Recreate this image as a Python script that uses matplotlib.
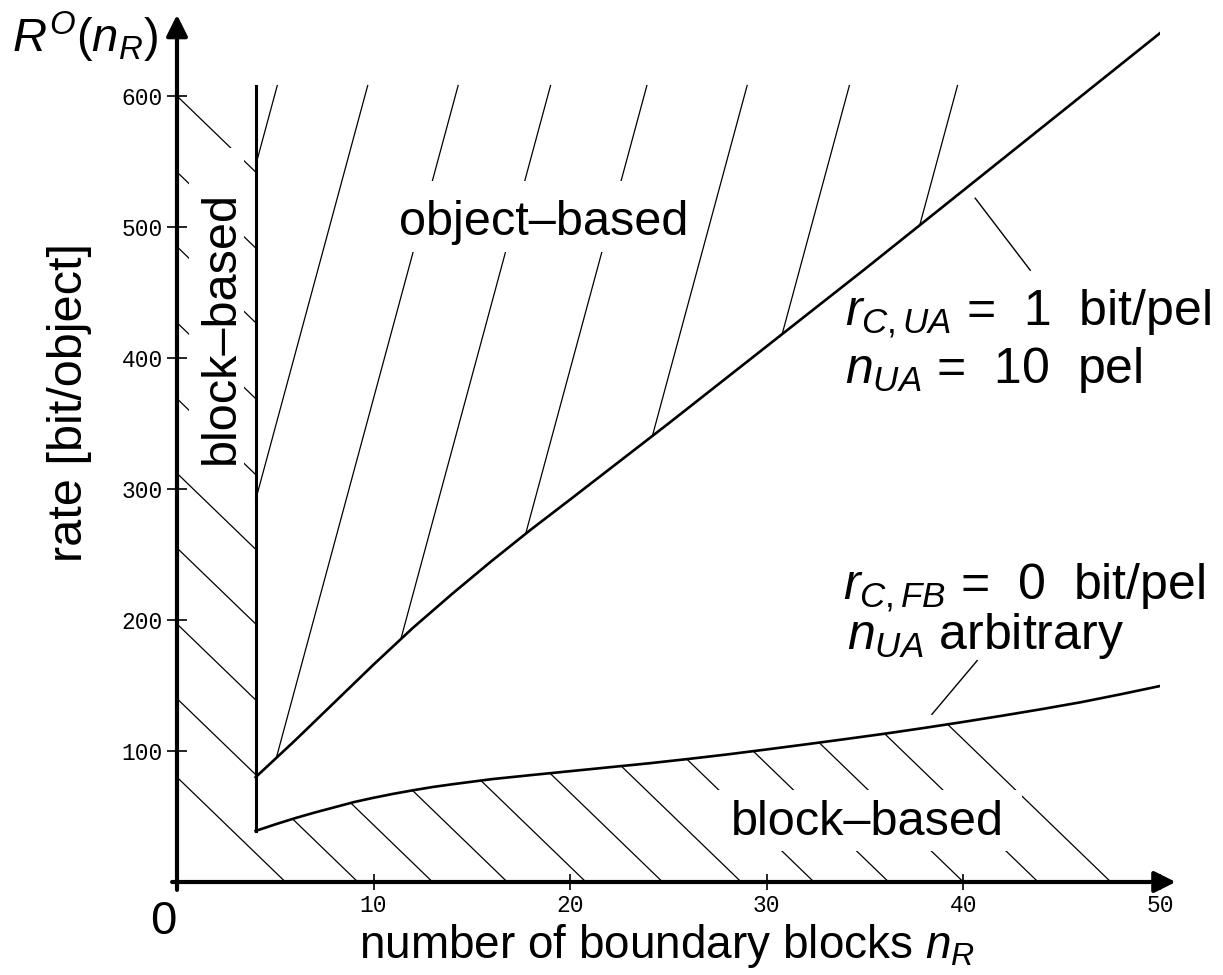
import numpy as np
import matplotlib.pyplot as plt
from matplotlib.patches import Rectangle

plt.rcParams['font.family'] = ['Liberation Sans', 'DejaVu Sans']
plt.rcParams['mathtext.fontset'] = 'custom'
plt.rcParams['mathtext.rm'] = 'Liberation Sans'
plt.rcParams['mathtext.it'] = 'Liberation Sans:italic'

# object-based rate, r_C,UA = 1 bit/pel, n_UA = 10 pel
upper_x = [4, 6, 8, 10, 12, 14, 16, 18, 20, 25, 30, 35, 40, 45, 50]
upper_y = [80, 108, 137, 166, 194, 220, 245, 269, 292, 350, 409, 468, 528, 588, 648]
# block-based rate, r_C,FB = 0 bit/pel
lower_x = [4, 5, 6, 7, 8, 9, 10, 11, 12, 13, 14, 16, 18, 20, 22, 24, 26, 28, 30, 32,
           34, 36, 38, 40, 42, 44, 46, 48, 50]
lower_y = [39, 44, 48.7, 53, 57, 61, 64.3, 67.3, 70, 72.5, 74.6, 78.5, 81.6, 84.6, 87.6,
           90.6, 93.9, 97.4, 101.2, 105.1, 109.1, 113.2, 117.6, 122.2, 127, 132, 137.3,
           143.3, 149.6]
# boundary at n_R = 4
wall_x = 4
wall_y = [39, 608]

xticks = [10, 20, 30, 40, 50]
yticks = [100, 200, 300, 400, 500, 600]

# hatching (region shading)
left_hatch = [600, 542, 485, 427, 369, 312, 255, 197, 140, 80]   # y at n_R = 0
low_hatch = [9.2, 13.0, 16.8, 20.8, 24.7, 28.7, 32.4, 36.2, 40.0, 43.8, 47.5]  # n_R at rate 0
obj_hatch = [5.1, 9.7, 14.3, 19.0, 23.9, 29.0, 34.2, 39.7]  # n_R at top
hatch_top = 608
slope_bb = 14.5
slope_ob = 55.5

ptr_up = ([40.6, 43.4], [522, 467])
ptr_low = ([38.4, 40.7], [128, 169])

fig = plt.figure(figsize=(12.23, 9.75), dpi=100)
ax = fig.add_axes([177 / 1223, 93 / 975, 983 / 1223, 851.5 / 975])
ax.set_xlim(0, 50)
ax.set_ylim(0, 650)
for s in ax.spines.values():
    s.set_visible(False)

hw = 0.9
grid = np.linspace(4, 50, 4001)

# left block-based hatches
for k in left_hatch:
    x_end = 4 if k - slope_bb * 4 > 39 else k / slope_bb
    ax.plot([0, x_end], [k, k - slope_bb * x_end], color='k', lw=hw, zorder=1)

# lower block-based hatches
low_i = np.interp(grid, lower_x, lower_y)
for b in low_hatch:
    line = slope_bb * (b - grid)
    x0 = grid[np.where(line <= low_i)[0][0]]
    ax.plot([x0, b], [slope_bb * (b - x0), 0], color='k', lw=hw, zorder=1)

# object-based hatches
up_i = np.interp(grid, upper_x, upper_y)
for t in obj_hatch:
    line = hatch_top - slope_ob * (t - grid)
    if line[0] >= up_i[0]:
        x0 = 4
    else:
        x0 = grid[np.where(line >= up_i)[0][0]]
    ax.plot([x0, t], [hatch_top - slope_ob * (t - x0), hatch_top], color='k', lw=hw, zorder=1)

# white gaps behind the region labels
ax.add_patch(Rectangle((0.6, 312), 2.8, 248, facecolor='white', edgecolor='none', zorder=2))
ax.add_patch(Rectangle((27.5, 24), 15.5, 46, facecolor='white', edgecolor='none', zorder=2))
ax.add_patch(Rectangle((10.5, 481), 16.0, 54, facecolor='white', edgecolor='none', zorder=2))

ax.plot(upper_x, upper_y, color='k', lw=1.9, zorder=4, solid_joinstyle='round')
ax.plot(lower_x, lower_y, color='k', lw=1.9, zorder=4, solid_joinstyle='round')
ax.plot([wall_x, wall_x], wall_y, color='k', lw=2.2, zorder=4)
ax.plot(*ptr_up, color='k', lw=1.0, zorder=4)
ax.plot(*ptr_low, color='k', lw=1.0, zorder=4)

# axes with arrow heads
ax.annotate('', xy=(50.8, 0), xytext=(-0.25, 0), annotation_clip=False,
            arrowprops=dict(arrowstyle='-|>', lw=3, color='k', mutation_scale=32,
                            shrinkA=0, shrinkB=0), zorder=5)
ax.annotate('', xy=(0, 662), xytext=(0, -6), annotation_clip=False,
            arrowprops=dict(arrowstyle='-|>', lw=3, color='k', mutation_scale=32,
                            shrinkA=0, shrinkB=0), zorder=5)

ax.set_xticks(xticks)
ax.set_yticks(yticks)
ax.set_xticklabels([str(v) for v in xticks], family='Liberation Mono', fontsize=16.5)
ax.set_yticklabels([str(v) for v in yticks], family='Liberation Mono', fontsize=16.5)
ax.tick_params(axis='x', direction='inout', length=12, width=1.2, pad=3)
ax.tick_params(axis='y', direction='inout', length=14, width=1.2, pad=3)

ax.text(-0.7, -14, '0', fontsize=34, ha='center', va='top', clip_on=False)
ax.text(24.9, -58, r'number of boundary blocks $n_R$', fontsize=33, ha='center',
        va='baseline', clip_on=False)
ax.text(-4.85, 366, 'rate [bit/object]', fontsize=35, rotation=90, rotation_mode='anchor',
        ha='center', va='baseline', clip_on=False)
ax.text(-8.4, 633, r'$R^O(n_R)$', fontsize=34, ha='left', va='baseline', clip_on=False)

ax.text(2.9, 423, 'block\u2013based', fontsize=35, rotation=90, rotation_mode='anchor',
        ha='center', va='baseline', zorder=3)
ax.text(18.65, 494, 'object\u2013based', fontsize=35, ha='center', va='baseline', zorder=3)
ax.text(35.1, 36, 'block\u2013based', fontsize=35, ha='center', va='baseline', zorder=3)

ax.text(34.0, 425, r'$r_{C,UA}$ =  1  bit/pel', fontsize=36, ha='left', va='baseline')
ax.text(34.0, 381, r'$n_{UA}$ =  10  pel', fontsize=36, ha='left', va='baseline')
ax.text(33.9, 216, r'$r_{C,FB}$ =  0  bit/pel', fontsize=36, ha='left', va='baseline')
ax.text(34.1, 178, r'$n_{UA}$ arbitrary', fontsize=36, ha='left', va='baseline')

fig.savefig('out.png', dpi=100, facecolor='white')
